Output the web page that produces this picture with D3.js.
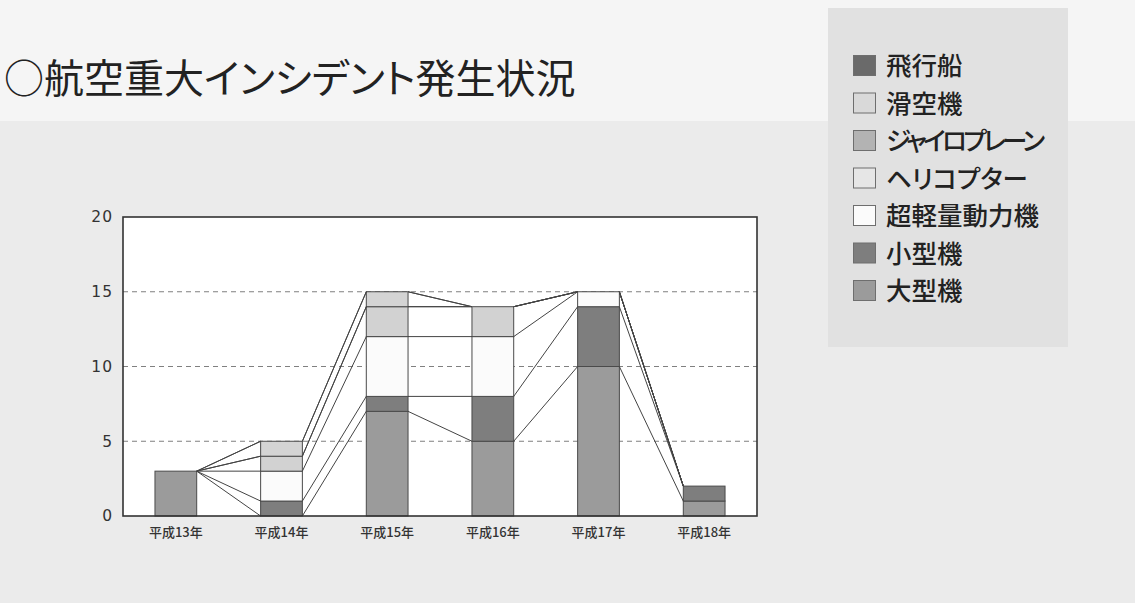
<!DOCTYPE html>
<html lang="ja">
<head>
<meta charset="utf-8">
<script src="https://cdn.jsdelivr.net/npm/d3@7/dist/d3.min.js"></script>
<style>
  html, body { margin: 0; padding: 0; background: #ebebeb; }
  svg { display: block; }
  .palt { font-feature-settings: "palt"; }
</style>
</head>
<body>
<svg id="chart" width="1135" height="603"></svg>
<script>
// 航空重大インシデント発生状況（機種別・年別件数）
const years = ["平成13年", "平成14年", "平成15年", "平成16年", "平成17年", "平成18年"];

// series, listed bottom of the stack first
const seriesNames = ["大型機", "小型機", "超軽量動力機", "ヘリコプター", "ジャイロプレーン", "滑空機", "飛行船"];
const large      = [3, 0, 7, 5, 10, 1];
const small      = [0, 1, 1, 3, 4, 1];
const ultralight = [0, 2, 4, 4, 1, 0];
const helicopter = [0, 1, 2, 2, 0, 0];
const gyroplane  = [0, 0, 0, 0, 0, 0];
const glider     = [0, 1, 1, 0, 0, 0];
const airship    = [0, 0, 0, 0, 0, 0];
const seriesValues = [large, small, ultralight, helicopter, gyroplane, glider, airship];

const yTicks = [0, 5, 10, 15, 20];

// legend order (top to bottom)
const legendOrder = ["飛行船", "滑空機", "ジャイロプレーン", "ヘリコプター", "超軽量動力機", "小型機", "大型機"];

const fills = {
  "大型機": "#9b9b9b",
  "小型機": "#7e7e7e",
  "超軽量動力機": "#fbfbfb",
  "ヘリコプター": "#d2d2d2",
  "ジャイロプレーン": "#b3b3b3",
  "滑空機": "#d4d4d4",
  "飛行船": "#6a6a6a"
};
const legendFills = Object.assign({}, fills, { "ヘリコプター": "#e6e6e6", "滑空機": "#d9d9d9" });
// tighter tracking for the long katakana label
const legendTracking = { "ジャイロプレーン": -3.6 };

const svg = d3.select("#chart");

// page background bands and legend panel
svg.append("rect").attr("x", 0).attr("y", 0).attr("width", 1135).attr("height", 603).attr("fill", "#ebebeb");
svg.append("rect").attr("x", 0).attr("y", 0).attr("width", 1135).attr("height", 121).attr("fill", "#f5f5f5");
svg.append("rect").attr("x", 828).attr("y", 8).attr("width", 240).attr("height", 339).attr("fill", "#e1e1e1");

// title
svg.append("text")
  .attr("class", "palt")
  .attr("x", 4).attr("y", 93)
  .attr("font-family", "'Noto Sans CJK JP', sans-serif")
  .attr("font-size", 40).attr("font-weight", 400)
  .attr("fill", "#222")
  .text("○航空重大インシデント発生状況");

// plot area
const plot = { left: 123, top: 217, right: 757, bottom: 516 };
const w = plot.right - plot.left, h = plot.bottom - plot.top;
const g = svg.append("g").attr("transform", `translate(${plot.left},${plot.top})`);

const x = d3.scaleBand().domain(years).range([0, w]).padding(0);
const y = d3.scaleLinear().domain([0, 20]).range([h, 0]);
const barW = x.bandwidth() * 0.395;
const barX = yr => x(yr) + (x.bandwidth() - barW) / 2;

g.append("rect").attr("width", w).attr("height", h).attr("fill", "#ffffff");

// dashed gridlines
g.append("g").selectAll("line")
  .data(yTicks.filter(t => t > 0 && t < 20))
  .join("line")
  .attr("x1", 0).attr("x2", w)
  .attr("y1", d => y(d)).attr("y2", d => y(d))
  .attr("stroke", "#808080").attr("stroke-width", 1.2)
  .attr("stroke-dasharray", "5,4");

// stacked layout
const table = years.map((yr, i) => {
  const row = { year: yr };
  seriesNames.forEach((s, k) => { row[s] = seriesValues[k][i]; });
  return row;
});
const stacked = d3.stack().keys(seriesNames)(table);

// series lines joining the top of each series between neighbouring bars
const links = [];
stacked.forEach(layer => {
  for (let i = 0; i < years.length - 1; i++) {
    links.push({
      x1: barX(years[i]) + barW, y1: y(layer[i][1]),
      x2: barX(years[i + 1]), y2: y(layer[i + 1][1])
    });
  }
});

// bars
stacked.forEach(layer => {
  g.append("g").selectAll("rect")
    .data(layer.filter(d => d[1] > d[0]))
    .join("rect")
    .attr("x", d => barX(d.data.year))
    .attr("y", d => y(d[1]))
    .attr("width", barW)
    .attr("height", d => y(d[0]) - y(d[1]))
    .attr("fill", fills[layer.key])
    .attr("stroke", "#4a4a4a").attr("stroke-width", 1);
});

g.append("g").selectAll("line")
  .data(links)
  .join("line")
  .attr("x1", d => d.x1).attr("y1", d => d.y1)
  .attr("x2", d => d.x2).attr("y2", d => d.y2)
  .attr("stroke", "#444").attr("stroke-width", 1);

// frame
g.append("rect").attr("width", w).attr("height", h)
  .attr("fill", "none").attr("stroke", "#333").attr("stroke-width", 1.6);

// y axis labels
const yAxis = g.append("g").call(d3.axisLeft(y).tickValues(yTicks).tickSize(0).tickPadding(10));
yAxis.select(".domain").remove();
yAxis.selectAll("text")
  .attr("font-family", "'DejaVu Sans', sans-serif")
  .attr("font-size", 15.5).attr("fill", "#333")
  .attr("letter-spacing", 1);

// x axis labels
const xAxis = g.append("g").attr("transform", `translate(0,${h})`)
  .call(d3.axisBottom(x).tickSize(0).tickPadding(12));
xAxis.select(".domain").remove();
xAxis.selectAll("text")
  .attr("font-family", "'Noto Sans CJK JP', sans-serif")
  .attr("font-size", 13).attr("font-weight", 500).attr("fill", "#333");

// legend
const legend = svg.append("g").attr("transform", "translate(853,55)");
const rows = legend.selectAll("g").data(legendOrder).join("g")
  .attr("transform", (d, i) => `translate(0,${i * 37.5})`);
rows.append("rect")
  .attr("x", 0.5).attr("y", 0.5).attr("width", 22).attr("height", 20)
  .attr("fill", d => legendFills[d])
  .attr("stroke", "#6e6e6e").attr("stroke-width", 1);
rows.append("text")
  .attr("class", "palt")
  .attr("x", 33).attr("y", 20)
  .attr("font-family", "'Noto Sans CJK JP', sans-serif")
  .attr("font-size", 25.5).attr("font-weight", 500).attr("fill", "#222")
  .attr("letter-spacing", d => legendTracking[d] || 0)
  .text(d => d);
</script>
</body>
</html>
